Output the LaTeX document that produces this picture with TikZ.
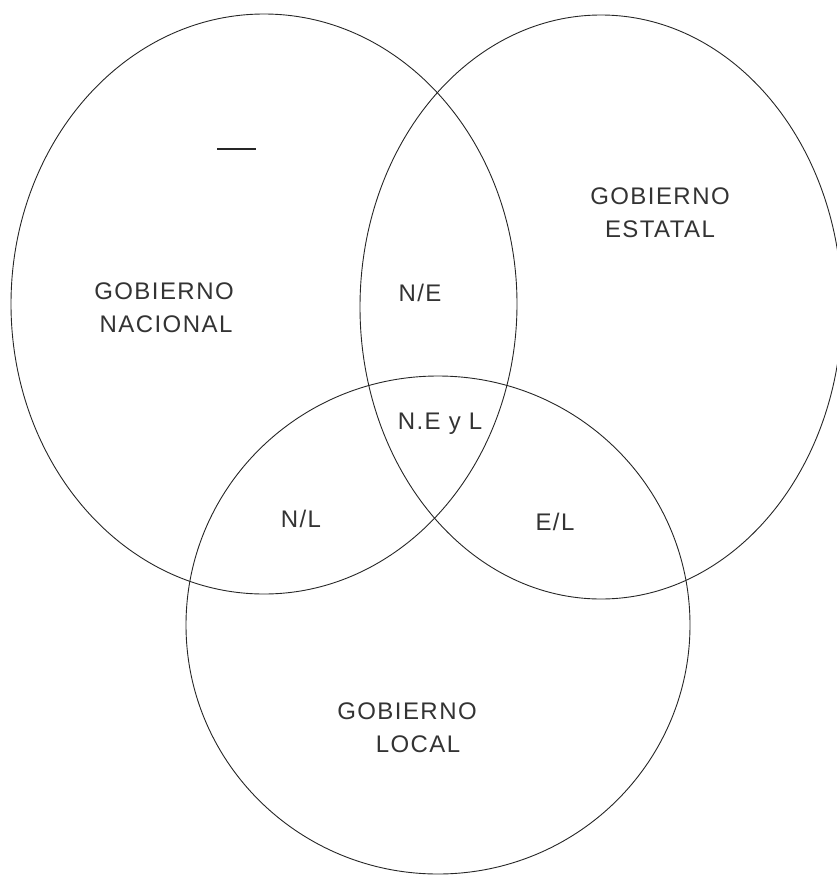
\documentclass[tikz,border=0pt]{standalone}
\usepackage{fontspec}
\setmainfont{Liberation Sans}
\usetikzlibrary{shapes.geometric}
\begin{document}
\begin{tikzpicture}[x=1pt,y=-1pt,
  setbox/.style={draw=black!85, line width=0.9pt, ellipse, inner sep=0pt, outer sep=0pt},
  lbl/.style={font=\fontsize{24}{32}\selectfont\addfontfeature{LetterSpace=6}, text=black!80, align=center, inner sep=0pt}]
\useasboundingbox (0,0) rectangle (837,876);
% sets
\node[setbox, minimum width=506pt, minimum height=580pt] (nac) at (264,304) {};
\node[setbox, minimum width=482pt, minimum height=584pt] (est) at (601,307) {};
\node[setbox, minimum width=504pt, minimum height=498pt] (loc) at (438,625) {};
% labels
\node[lbl] (tnac1) at (164,291) {GOBIERNO};
\node[lbl] (tnac2) at (166,324) {NACIONAL};
\node[lbl] (test1) at (660,196) {GOBIERNO};
\node[lbl] (test2) at (660,229) {ESTATAL};
\node[lbl] (tne) at (420,293) {N/E};
\node[lbl] (tnel) at (440,424) {N.E y L};
\node[lbl] (tnl) at (301,519) {N/L};
\node[lbl] (tel) at (555,522) {E/L};
\node[lbl] (tloc1) at (407,711) {GOBIERNO};
\node[lbl] (tloc2) at (418,744) {LOCAL};
% stray dash
\coordinate (d1) at (217,149);
\coordinate (d2) at (256,149);
\draw[line width=2pt, black!85] (d1) -- (d2);
\end{tikzpicture}
\end{document}
